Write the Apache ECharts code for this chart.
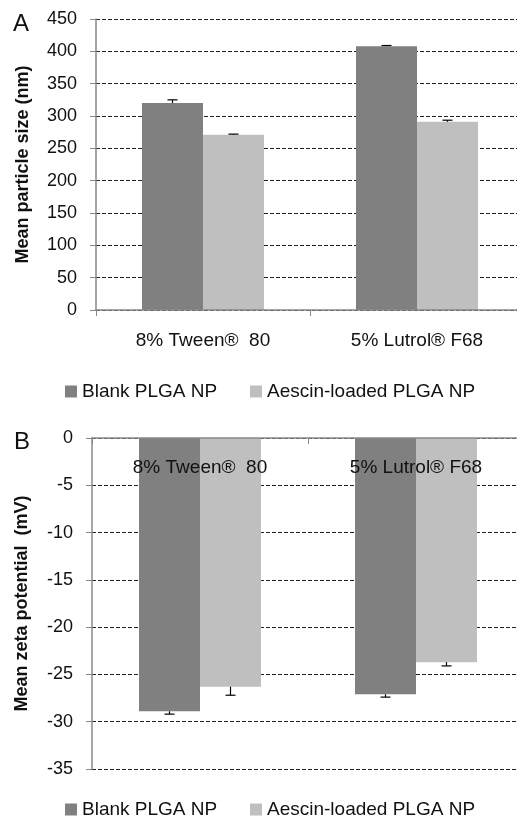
<!DOCTYPE html>
<html>
<head>
<meta charset="utf-8">
<script src="https://cdn.jsdelivr.net/npm/echarts@6/dist/echarts.min.js"></script>
<style>
  html, body { margin: 0; padding: 0; background: #fff; }
  #chart { width: 517px; height: 816px; }
</style>
</head>
<body>
<div id="chart"></div>
<script>
const categories = ['8% Tween®  80', '5% Lutrol® F68'];
const seriesNames = ['Blank PLGA NP', 'Aescin-loaded PLGA NP'];

// panel A: mean particle size (nm)
const sizeBlank = [320, 408];
const sizeBlankErr = [5, 1];
const sizeAescin = [271, 291];
const sizeAescinErr = [1, 2.5];

// panel B: mean zeta potential (mV)
const zetaBlank = [-28.9, -27.1];
const zetaBlankErr = [0.3, 0.3];
const zetaAescin = [-26.3, -23.7];
const zetaAescinErr = [0.9, 0.4];

const FONT = '"Liberation Sans", Arial, sans-serif';
const BAR_W = 61;
const DARK = '#808080';
const LIGHT = '#bfbfbf';
const AXIS = '#888888';

// error bar drawn away from zero, on the left (-1) or right (+1) bar of a group
function errorSeries(values, errs, side, idx) {
  return {
    type: 'custom',
    xAxisIndex: idx,
    yAxisIndex: idx,
    z: 5,
    silent: true,
    data: values.map((v, i) => [i, v, errs[i]]),
    renderItem(params, api) {
      const v = api.value(1);
      const e = api.value(2);
      const p0 = api.coord([api.value(0), v]);
      const p1 = api.coord([api.value(0), v + Math.sign(v) * e]);
      const x = p0[0] + side * BAR_W / 2;
      const style = { stroke: '#000', lineWidth: 1.2 };
      return {
        type: 'group',
        children: [
          { type: 'line', shape: { x1: x, y1: p0[1], x2: x, y2: p1[1] }, style },
          { type: 'line', shape: { x1: x - 5, y1: p1[1], x2: x + 5, y2: p1[1] }, style }
        ]
      };
    }
  };
}

function barSeries(name, values, color, idx) {
  return {
    type: 'bar',
    name,
    xAxisIndex: idx,
    yAxisIndex: idx,
    barWidth: BAR_W,
    barGap: '0%',
    itemStyle: { color },
    data: values
  };
}

// panel B has its category axis along the top (value 0), labels hanging inside
function xAxis(idx) {
  const top = idx === 1;
  return {
    type: 'category',
    gridIndex: idx,
    data: categories,
    position: top ? 'top' : 'bottom',
    z: 10,
    axisLine: { show: true, onZero: false, lineStyle: { color: AXIS, width: 1.5 } },
    axisTick: { show: true, inside: top, length: 6, lineStyle: { color: AXIS } },
    axisLabel: { inside: top, fontFamily: FONT, fontSize: 19, color: '#111', margin: top ? 20 : 21 }
  };
}

function yAxis(idx, min, max, name, gap) {
  return {
    type: 'value',
    gridIndex: idx,
    min, max, interval: idx === 0 ? 50 : 5,
    name,
    nameLocation: 'middle',
    nameRotate: 90,
    nameGap: gap,
    nameTextStyle: { fontFamily: FONT, fontSize: 18, fontWeight: 'bold', color: '#111' },
    axisLine: { show: true, lineStyle: { color: AXIS, width: 1.5 } },
    axisTick: { show: true, length: 6, lineStyle: { color: AXIS } },
    axisLabel: { fontFamily: FONT, fontSize: 18, color: '#111', margin: 19 },
    splitLine: { show: true, lineStyle: { color: '#222', type: [4, 2], width: 1 } }
  };
}

function legend(name, left, top) {
  return {
    data: [name],
    left, top,
    icon: 'rect',
    itemWidth: 12,
    itemHeight: 12,
    selectedMode: false,
    textStyle: { fontFamily: FONT, fontSize: 19, color: '#111' }
  };
}

const chart = echarts.init(document.getElementById('chart'));
chart.setOption({
  animation: false,
  backgroundColor: '#fff',
  graphic: [
    { type: 'text', left: 13, top: 12, style: { text: 'A', font: '24px ' + FONT, fill: '#111' } },
    { type: 'text', left: 14, top: 430, style: { text: 'B', font: '24px ' + FONT, fill: '#111' } }
  ],
  legend: [
    legend(seriesNames[0], 60, 377),
    legend(seriesNames[1], 245, 377),
    legend(seriesNames[0], 60, 795),
    legend(seriesNames[1], 245, 795)
  ],
  grid: [
    { left: 96, top: 19, width: 428, height: 291, outerBoundsMode: 'none' },
    { left: 92, top: 438, width: 432, height: 331, outerBoundsMode: 'none' }
  ],
  xAxis: [xAxis(0), xAxis(1)],
  yAxis: [
    yAxis(0, 0, 450, 'Mean particle size (nm)', 64),
    yAxis(1, -35, 0, 'Mean zeta potential  (mV)', 61)
  ],
  series: [
    barSeries(seriesNames[0], sizeBlank, DARK, 0),
    barSeries(seriesNames[1], sizeAescin, LIGHT, 0),
    errorSeries(sizeBlank, sizeBlankErr, -1, 0),
    errorSeries(sizeAescin, sizeAescinErr, 1, 0),
    barSeries(seriesNames[0], zetaBlank, DARK, 1),
    barSeries(seriesNames[1], zetaAescin, LIGHT, 1),
    errorSeries(zetaBlank, zetaBlankErr, -1, 1),
    errorSeries(zetaAescin, zetaAescinErr, 1, 1)
  ]
});
</script>
</body>
</html>
